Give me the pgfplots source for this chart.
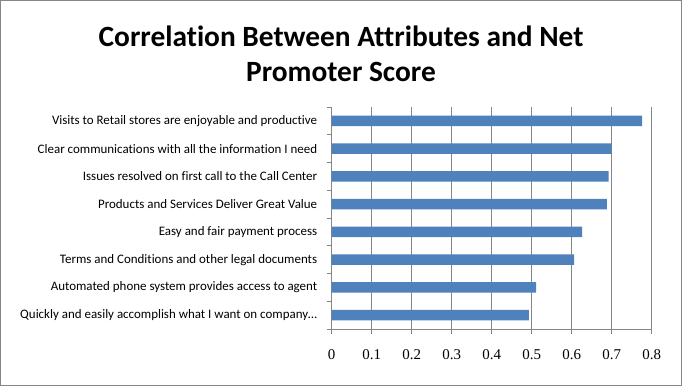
\documentclass[border=0pt]{standalone}
\usepackage{fontspec}
\usepackage{pgfplots}
\pgfplotsset{compat=1.18}
\setmainfont{Carlito}[Ligatures={NoCommon}]
\newfontfamily\tickfont{Liberation Serif}
\definecolor{barblue}{HTML}{4F81BD}
\definecolor{gridgray}{HTML}{868686}
\begin{document}
\begin{tikzpicture}[x=1bp,y=1bp]
\useasboundingbox (0,0) rectangle (682,386);
\draw[gridgray, line width=1bp] (0.5,0.5) rectangle (681.5,385.5);
\node[font=\fontsize{29.5}{35}\selectfont\bfseries, align=center] at (341,332) {Correlation Between Attributes and Net\\Promoter Score};
\begin{axis}[
  at={(331.7bp,57bp)}, anchor=south west, scale only axis,
  width=320bp, height=222bp,
  xbar, bar width=10.5bp,
  xmin=0, xmax=0.8, ymin=-0.5, ymax=7.5,
  axis x line*=bottom, axis y line*=left,
  axis line style={gridgray, line width=0.8bp, -},
  xtick={0,0.1,0.2,0.3,0.4,0.5,0.6,0.7,0.8},
  xmajorgrids, grid style={gridgray, line width=0.8bp},
  tick align=outside, major tick length=5bp, minor tick length=5bp,
  tick style={gridgray, line width=0.8bp},
  ytick={0,1,2,3,4,5,6,7},
  yticklabels={Quickly and easily accomplish what I want on company…,
    Automated phone system provides access to agent,
    Terms and Conditions and other legal documents,
    Easy and fair payment process,
    Products and Services Deliver Great Value,
    Issues resolved on first call to the Call Center,
    Clear communications with all the information I need,
    Visits to Retail stores are enjoyable and productive},
  minor ytick={-0.5,0.5,1.5,2.5,3.5,4.5,5.5,6.5,7.5},
  major y tick style={draw=none},
  xticklabel style={font=\tickfont\fontsize{15}{18}\selectfont, yshift=-12bp},
  /pgf/number format/assume math mode=true,
  /pgf/number format/fixed,
  yticklabel style={font=\fontsize{13}{15}\selectfont, xshift=-6bp},
]
\addplot[fill=barblue, draw=none] coordinates {(0.493,0) (0.511,1) (0.606,2) (0.626,3) (0.688,4) (0.692,5) (0.700,6) (0.776,7)};
\end{axis}
\end{tikzpicture}
\end{document}
